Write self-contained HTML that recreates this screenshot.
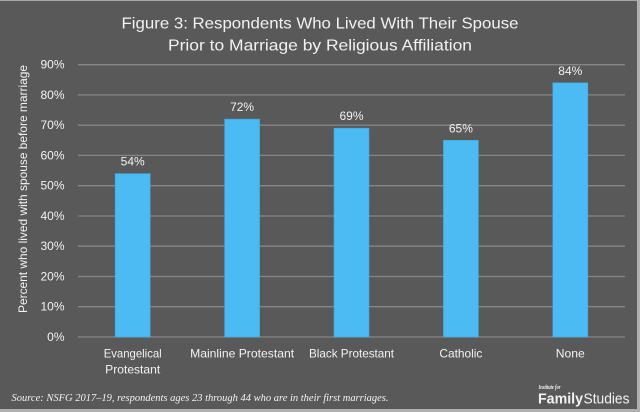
<!DOCTYPE html>
<html><head><meta charset="utf-8"><style>
html,body{margin:0;padding:0;background:#595959;}
svg{display:block;}
</style></head><body>
<svg width="640" height="412" viewBox="0 0 640 412" xmlns="http://www.w3.org/2000/svg">
<rect x="0" y="0" width="640" height="412" fill="#595959"/>
<line x1="0" y1="0.5" x2="640" y2="0.5" stroke="#a6a6a6" stroke-width="1"/>
<rect x="637" y="0" width="3" height="412" fill="#b0b0b0"/>
<rect x="0" y="409" width="640" height="3" fill="#b0b0b0"/>
<g font-family="Liberation Sans, sans-serif" fill="#f2f2f2">
<text x="320" y="28.3" font-size="16" text-anchor="middle" textLength="397" lengthAdjust="spacingAndGlyphs">Figure 3: Respondents Who Lived With Their Spouse</text>
<text x="320" y="50.5" font-size="16" text-anchor="middle" textLength="304" lengthAdjust="spacingAndGlyphs">Prior to Marriage by Religious Affiliation</text>
</g>
<g stroke="#868686" stroke-width="1.3">
<line x1="78" y1="64.7" x2="625" y2="64.7"/>
<line x1="78" y1="94.9" x2="625" y2="94.9"/>
<line x1="78" y1="125.2" x2="625" y2="125.2"/>
<line x1="78" y1="155.4" x2="625" y2="155.4"/>
<line x1="78" y1="185.7" x2="625" y2="185.7"/>
<line x1="78" y1="216" x2="625" y2="216"/>
<line x1="78" y1="246.2" x2="625" y2="246.2"/>
<line x1="78" y1="276.5" x2="625" y2="276.5"/>
<line x1="78" y1="306.7" x2="625" y2="306.7"/>
<line x1="78" y1="337" x2="625" y2="337"/>
</g>
<g font-family="Liberation Sans, sans-serif" font-size="12" fill="#f2f2f2" text-anchor="end">
<text x="64.5" y="68.7">90%</text>
<text x="64.5" y="98.9">80%</text>
<text x="64.5" y="129.2">70%</text>
<text x="64.5" y="159.4">60%</text>
<text x="64.5" y="189.7">50%</text>
<text x="64.5" y="220">40%</text>
<text x="64.5" y="250.2">30%</text>
<text x="64.5" y="280.5">20%</text>
<text x="64.5" y="310.7">10%</text>
<text x="64.5" y="341">0%</text>
</g>
<text transform="translate(27,189) rotate(-90)" font-family="Liberation Sans, sans-serif" font-size="12" fill="#f2f2f2" text-anchor="middle" textLength="248" lengthAdjust="spacingAndGlyphs">Percent who lived with spouse before marriage</text>
<g fill="#4dbbf3" stroke="#3fa6dc" stroke-width="0.6">
<rect x="115.2" y="173.6" width="35" height="163.4"/>
<rect x="224.6" y="119.1" width="35" height="217.9"/>
<rect x="334" y="128.2" width="35" height="208.8"/>
<rect x="443.4" y="140.3" width="35" height="196.7"/>
<rect x="552.8" y="82.8" width="35" height="254.2"/>
</g>
<g font-family="Liberation Sans, sans-serif" font-size="12" fill="#f2f2f2" text-anchor="middle">
<text x="132.7" y="165.6">54%</text>
<text x="242.1" y="111.1">72%</text>
<text x="351.5" y="120.2">69%</text>
<text x="460.9" y="132.3">65%</text>
<text x="570.3" y="74.8">84%</text>
</g>
<g font-family="Liberation Sans, sans-serif" font-size="12" fill="#f2f2f2" text-anchor="middle">
<text x="132.7" y="357.5" textLength="58" lengthAdjust="spacingAndGlyphs">Evangelical</text>
<text x="132.7" y="373.5" textLength="55" lengthAdjust="spacingAndGlyphs">Protestant</text>
<text x="242.1" y="357.5" textLength="104" lengthAdjust="spacingAndGlyphs">Mainline Protestant</text>
<text x="351.5" y="357.5" textLength="85" lengthAdjust="spacingAndGlyphs">Black Protestant</text>
<text x="460.9" y="357.5" textLength="43" lengthAdjust="spacingAndGlyphs">Catholic</text>
<text x="570.3" y="357.5" textLength="29" lengthAdjust="spacingAndGlyphs">None</text>
</g>
<text x="11.5" y="401" font-family="Liberation Serif, serif" font-style="italic" font-size="11" fill="#f2f2f2" textLength="377" lengthAdjust="spacingAndGlyphs">Source: NSFG 2017–19, respondents ages 23 through 44 who are in their first marriages.</text>
<text x="538.5" y="389" font-family="Liberation Serif, serif" font-style="italic" font-weight="bold" font-size="6" fill="#f2f2f2" textLength="22" lengthAdjust="spacingAndGlyphs">Institute for</text>
<text x="538" y="403.3" font-family="Liberation Sans, sans-serif" font-weight="bold" font-size="14.5" fill="#f2f2f2" textLength="45" lengthAdjust="spacingAndGlyphs">Family</text>
<text x="583.5" y="403.3" font-family="Liberation Sans, sans-serif" font-size="14.5" fill="#f2f2f2" textLength="46" lengthAdjust="spacingAndGlyphs">Studies</text>
</svg>
</body></html>
